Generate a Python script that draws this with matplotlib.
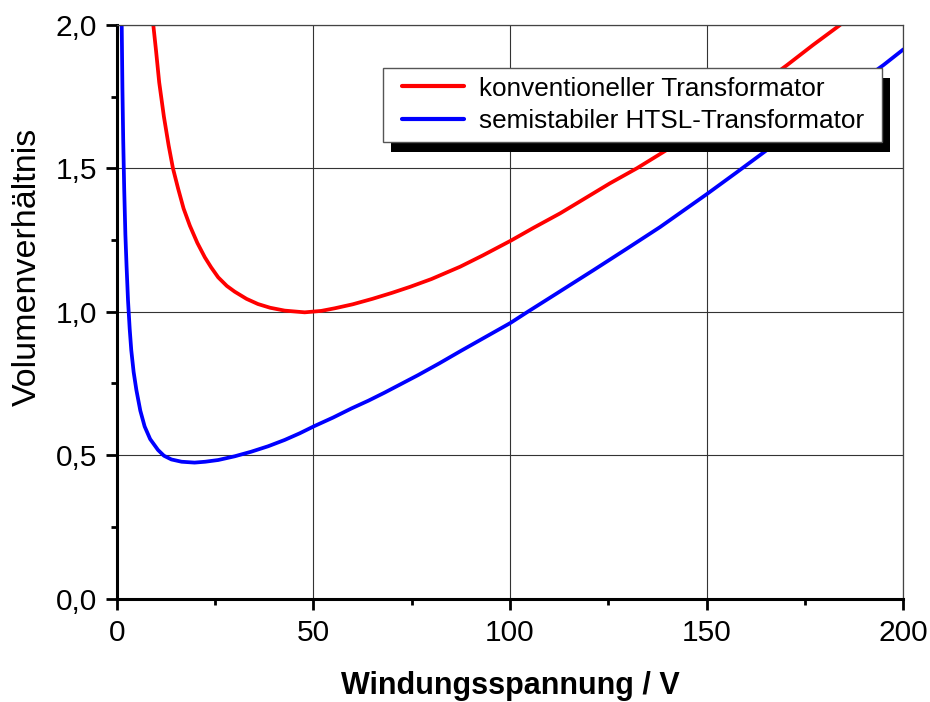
import matplotlib
matplotlib.use("Agg")
import matplotlib.pyplot as plt
from matplotlib.patches import Rectangle
from matplotlib.transforms import IdentityTransform
from matplotlib.ticker import MultipleLocator, FixedLocator

# Volume ratio versus turn voltage
konv_x = [9.3, 10.0, 10.8, 12.0, 13.2, 14.3, 15.6, 17.0, 18.6, 20.5, 22.4, 24.0,
          25.8, 28.0, 30.0, 33.0, 35.9, 39.0, 42.7, 47.8, 52.0, 55.4, 60.0, 65.0,
          70.0, 74.6, 80.0, 87.3, 93.0, 100.2, 106.0, 112.7, 119.0, 125.4, 132.2,
          139.8, 147.0, 155.0, 162.0, 170.4, 177.0, 183.9]
konv_y = [2.00, 1.91, 1.80, 1.68, 1.58, 1.50, 1.43, 1.36, 1.30, 1.24, 1.19, 1.155,
          1.12, 1.09, 1.07, 1.045, 1.027, 1.014, 1.004, 0.998, 1.003, 1.012, 1.026,
          1.045, 1.066, 1.087, 1.114, 1.157, 1.196, 1.248, 1.293, 1.343, 1.395,
          1.448, 1.500, 1.564, 1.630, 1.705, 1.775, 1.860, 1.930, 2.00]

htsl_x = [1.27, 1.45, 1.65, 1.9, 2.2, 2.5, 2.87, 3.3, 3.7, 4.3, 5.0, 6.0, 7.1, 8.5,
          10.5, 12.0, 13.9, 16.5, 19.8, 22.5, 25.8, 30.0, 34.2, 38.5, 42.7, 46.5,
          50.2, 55.0, 59.7, 64.0, 68.1, 72.0, 76.6, 82.0, 87.3, 93.5, 100.1, 104.5,
          112.0, 121.2, 129.7, 138.1, 150.0, 157.5, 165.3, 172.5, 180.0, 187.5,
          194.9, 200.0]
htsl_y = [2.00, 1.78, 1.60, 1.43, 1.27, 1.16, 1.04, 0.94, 0.866, 0.79, 0.727, 0.655,
          0.600, 0.556, 0.518, 0.498, 0.485, 0.477, 0.474, 0.477, 0.483, 0.496,
          0.512, 0.531, 0.553, 0.576, 0.601, 0.631, 0.663, 0.690, 0.718, 0.746,
          0.779, 0.820, 0.862, 0.910, 0.961, 1.000, 1.065, 1.145, 1.220, 1.295,
          1.410, 1.485, 1.564, 1.637, 1.713, 1.787, 1.860, 1.915]

series_labels = ["konventioneller Transformator", "semistabiler HTSL-Transformator"]
x_ticks = [0, 50, 100, 150, 200]
x_ticklabels = ["0", "50", "100", "150", "200"]
y_ticks = [0.0, 0.5, 1.0, 1.5, 2.0]
y_ticklabels = ["0,0", "0,5", "1,0", "1,5", "2,0"]

plt.rcParams["font.family"] = ["Liberation Sans", "DejaVu Sans"]

fig = plt.figure(figsize=(9.3, 7.02), dpi=100)
ax = fig.add_axes([0.1255, 0.1474, 0.8459, 0.8170])

ax.plot(konv_x, konv_y, color="#ff0000", lw=2.7, label=series_labels[0],
        solid_capstyle="round", solid_joinstyle="round")
ax.plot(htsl_x, htsl_y, color="#0000ff", lw=2.7, label=series_labels[1],
        solid_capstyle="round", solid_joinstyle="round")

ax.set_xlim(0, 200)
ax.set_ylim(0, 2.0)
ax.xaxis.set_major_locator(FixedLocator(x_ticks))
ax.set_xticklabels(x_ticklabels)
ax.yaxis.set_major_locator(FixedLocator(y_ticks))
ax.set_yticklabels(y_ticklabels)
ax.xaxis.set_minor_locator(MultipleLocator(25))
ax.yaxis.set_minor_locator(MultipleLocator(0.25))

ax.grid(True, which="major", color="#333333", lw=0.8)

for side in ("left", "bottom"):
    ax.spines[side].set_linewidth(2.2)
    ax.spines[side].set_color("black")
for side in ("top", "right"):
    ax.spines[side].set_linewidth(0.9)
    ax.spines[side].set_color("#444444")

ax.tick_params(which="major", direction="out", length=8, width=2.0,
               labelsize=21.5, top=False, right=False)
ax.tick_params(which="minor", direction="out", length=4.5, width=2.0,
               top=False, right=False)
ax.tick_params(axis="x", which="major", pad=7)
ax.tick_params(axis="y", which="major", pad=6)

ax.set_xlabel("Windungsspannung / V", fontsize=22, fontweight="bold",
              va="baseline")
ax.xaxis.set_label_coords(0.5, -0.166)
ax.set_ylabel("Volumenverhältnis", fontsize=24.5, va="baseline")
ax.yaxis.set_label_coords(-0.1026, 0.578)

leg = ax.legend(loc="upper left", bbox_to_anchor=(0.3623, 0.910), frameon=False,
                fontsize=18.8, borderpad=0, borderaxespad=0, handlelength=2.4,
                handletextpad=0.55, labelspacing=0.34)
for line in leg.get_lines():
    line.set_linewidth(3.0)
leg.set_zorder(6)

# Boxed legend frame with a solid drop shadow
fig.canvas.draw()
bb = leg.get_window_extent()
pad_l, pad_r, pad_v = 19, 18, 9.0
fx0, fx1 = bb.x0 - pad_l, bb.x1 + pad_r
fy0, fy1 = bb.y0 - pad_v, bb.y1 + pad_v
shadow = Rectangle((fx0 + 8.5, fy0 - 10), fx1 - fx0, fy1 - fy0,
                   transform=IdentityTransform(), facecolor="black",
                   edgecolor="none", zorder=5.0, clip_on=False)
frame = Rectangle((fx0, fy0), fx1 - fx0, fy1 - fy0,
                  transform=IdentityTransform(), facecolor="white",
                  edgecolor="#555555", lw=1.0, zorder=5.5, clip_on=False)
ax.add_artist(shadow)
ax.add_artist(frame)

fig.savefig("out.png", dpi=100)
